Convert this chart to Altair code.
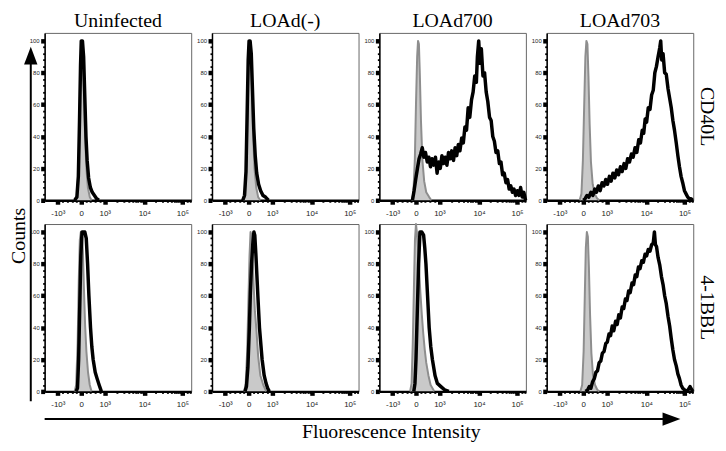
import altair as alt
import pandas as pd

conditions = ["Uninfected", "LOAd(-)", "LOAd700", "LOAd703"]
markers = ["CD40L", "4-1BBL"]

# display-channel positions (0..1000) of the logicle axis ticks
x_major_values = [90, 250, 410, 680, 940]
x_major_labels = ["-10³", "0", "10³", "10⁴", "10⁵"]
x_minor_values = [122, 154, 186, 218, 282, 314, 346, 378, 491, 539, 573, 599, 620, 638,
                  654, 668, 758, 804, 837, 862, 882, 900, 915, 928, 970, 990]
y_major_values = [0, 20, 40, 60, 80, 100]
y_minor_values = [4, 8, 12, 16, 24, 28, 32, 36, 44, 48, 52, 56, 64, 68, 72, 76, 84, 88, 92, 96]

# ---- Uninfected / CD40L
uninf_cd40l_gray_x = [210, 222, 232, 240, 247, 253, 260, 268, 276, 285, 295, 308, 320]
uninf_cd40l_gray_y = [0, 3, 22, 60, 90, 100, 95, 70, 40, 20, 8, 2, 0]
uninf_cd40l_black_x = [205, 220, 230, 238, 245, 250, 258, 266, 274, 282, 290, 300, 312, 325, 340, 355, 370]
uninf_cd40l_black_y = [0, 2, 15, 50, 85, 100, 100, 90, 65, 40, 25, 14, 8, 5, 3, 1, 0]

# ---- LOAd(-) / CD40L
load_cd40l_gray_x = [215, 226, 236, 244, 251, 257, 264, 272, 280, 290, 302, 315, 330]
load_cd40l_gray_y = [0, 3, 25, 65, 92, 100, 95, 72, 42, 20, 8, 2, 0]
load_cd40l_black_x = [210, 222, 232, 240, 247, 253, 260, 268, 276, 285, 295, 305, 318, 332, 348, 365, 385]
load_cd40l_black_y = [0, 3, 18, 55, 88, 100, 100, 92, 70, 45, 28, 17, 10, 6, 3, 2, 0]

# ---- LOAd700 / CD40L
l700_cd40l_gray_x = [220, 232, 242, 250, 258, 264, 270, 276, 284, 294, 306, 320, 340, 355]
l700_cd40l_gray_y = [0, 4, 25, 60, 90, 100, 98, 80, 50, 25, 12, 5, 2, 0]
l700_cd40l_black_x = [226, 237, 248, 260, 271, 282, 293, 304, 315, 327, 338, 349, 360, 371, 383, 394,
                      405, 416, 427, 438, 450, 461, 472, 483, 494, 506, 517, 528, 539, 550, 562, 573,
                      584, 595, 606, 617, 629, 640, 651, 662, 669, 678, 687, 696, 707, 718, 729, 740,
                      752, 763, 774, 785, 796, 808, 819, 830, 841, 852, 864, 875, 886, 897, 908, 919,
                      930, 942, 953, 964, 975, 986, 998]
l700_cd40l_black_y = [0, 6, 13, 20, 26, 29, 33, 27, 30, 24, 27, 21, 26, 22, 27, 17,
                      24, 20, 28, 23, 27, 22, 30, 26, 31, 25, 33, 28, 35, 31, 39, 36,
                      46, 44, 58, 52, 63, 68, 78, 74, 90, 100, 86, 95, 78, 80, 68, 62,
                      52, 50, 40, 37, 30, 31, 23, 24, 16, 17, 11, 13, 7, 9, 5, 7,
                      3, 6, 3, 8, 2, 5, 0]

# ---- LOAd703 / CD40L
l703_cd40l_gray_x = [225, 237, 247, 256, 264, 271, 278, 285, 293, 302, 314, 328, 345, 360]
l703_cd40l_gray_y = [0, 4, 25, 60, 90, 100, 98, 78, 48, 24, 10, 4, 1, 0]
l703_cd40l_black_x = [250, 262, 275, 288, 302, 315, 328, 340, 352, 365, 378, 391, 403, 415, 428, 440,
                      452, 465, 478, 490, 503, 515, 528, 540, 552, 565, 578, 590, 603, 615, 628, 640,
                      652, 662, 672, 682, 693, 705, 716, 727, 738, 749, 760, 772, 778, 785, 794, 805,
                      816, 828, 839, 850, 861, 872, 884, 895, 906, 917, 928, 940, 951, 962, 973, 985, 995]
l703_cd40l_black_y = [0, 1, 3, 2, 5, 3, 7, 5, 9, 6, 11, 9, 13, 10, 15, 12,
                      17, 14, 19, 16, 21, 18, 23, 20, 26, 24, 29, 27, 33, 30, 38, 36,
                      44, 42, 51, 49, 58, 57, 66, 69, 80, 84, 90, 96, 100, 88, 92, 80,
                      79, 70, 64, 58, 50, 44, 36, 28, 21, 15, 11, 6, 4, 2, 1, 1, 0]

# ---- Uninfected / 4-1BBL
uninf_41bbl_gray_x = [205, 215, 225, 233, 240, 247, 254, 261, 268, 276, 285, 296, 308, 320]
uninf_41bbl_gray_y = [0, 4, 30, 70, 95, 100, 100, 88, 65, 42, 25, 12, 4, 0]
uninf_41bbl_black_x = [215, 224, 232, 240, 247, 255, 264, 274, 284, 293, 302, 313, 322, 331, 345, 358, 372, 387]
uninf_41bbl_black_y = [0, 2, 20, 55, 85, 100, 100, 100, 96, 80, 60, 40, 28, 20, 12, 8, 4, 0]

# ---- LOAd(-) / 4-1BBL
load_41bbl_gray_x = [220, 230, 240, 248, 256, 263, 270, 277, 285, 293, 302, 315, 330, 350, 370]
load_41bbl_gray_y = [0, 5, 25, 55, 85, 100, 98, 85, 65, 50, 40, 22, 10, 4, 0]
load_41bbl_black_x = [225, 235, 245, 255, 262, 270, 278, 286, 292, 300, 313, 324, 342, 356, 369, 380, 391]
load_41bbl_black_y = [0, 3, 15, 40, 62, 80, 92, 100, 98, 85, 60, 40, 20, 10, 5, 2, 0]

# ---- LOAd700 / 4-1BBL
l700_41bbl_gray_x = [210, 220, 228, 236, 243, 250, 256, 264, 272, 280, 290, 300, 310, 320, 335, 350, 375]
l700_41bbl_gray_y = [0, 5, 30, 65, 95, 105, 100, 90, 75, 62, 48, 36, 26, 18, 10, 4, 0]
l700_41bbl_black_x = [235, 243, 250, 256, 262, 268, 277, 290, 302, 310, 318, 329, 340, 351, 362, 380, 396, 420, 445, 474]
l700_41bbl_black_y = [0, 5, 20, 40, 60, 80, 100, 100, 98, 90, 80, 60, 40, 28, 20, 10, 5, 3, 1, 0]

# ---- LOAd703 / 4-1BBL
l703_41bbl_gray_x = [230, 242, 252, 260, 267, 274, 281, 288, 296, 305, 316, 330, 345, 360]
l703_41bbl_gray_y = [0, 4, 25, 60, 90, 100, 97, 78, 48, 24, 10, 4, 1, 0]
l703_41bbl_black_x = [265, 280, 291, 302, 313, 325, 336, 347, 358, 369, 380, 391, 403, 414, 425, 436,
                      447, 458, 470, 481, 492, 503, 515, 526, 537, 548, 559, 570, 582, 593, 604, 615,
                      626, 637, 649, 660, 671, 682, 693, 705, 716, 727, 735, 742, 749, 760, 772, 783,
                      794, 805, 816, 828, 839, 850, 861, 872, 884, 895, 906, 917, 928, 940, 951, 965,
                      978, 990, 998]
l703_41bbl_black_y = [0, 1, 3, 2, 6, 8, 12, 13, 18, 19, 24, 25, 30, 31, 36, 35,
                      41, 38, 44, 42, 48, 46, 53, 52, 58, 57, 63, 62, 68, 67, 73, 72,
                      78, 77, 82, 81, 86, 85, 89, 88, 92, 93, 100, 92, 91, 84, 79, 72,
                      67, 60, 55, 47, 41, 33, 26, 20, 16, 11, 8, 4, 2, 1, 0, 1,
                      3, 1, 0]

series = {
    ("Uninfected", "CD40L"): (uninf_cd40l_gray_x, uninf_cd40l_gray_y, uninf_cd40l_black_x, uninf_cd40l_black_y),
    ("LOAd(-)", "CD40L"): (load_cd40l_gray_x, load_cd40l_gray_y, load_cd40l_black_x, load_cd40l_black_y),
    ("LOAd700", "CD40L"): (l700_cd40l_gray_x, l700_cd40l_gray_y, l700_cd40l_black_x, l700_cd40l_black_y),
    ("LOAd703", "CD40L"): (l703_cd40l_gray_x, l703_cd40l_gray_y, l703_cd40l_black_x, l703_cd40l_black_y),
    ("Uninfected", "4-1BBL"): (uninf_41bbl_gray_x, uninf_41bbl_gray_y, uninf_41bbl_black_x, uninf_41bbl_black_y),
    ("LOAd(-)", "4-1BBL"): (load_41bbl_gray_x, load_41bbl_gray_y, load_41bbl_black_x, load_41bbl_black_y),
    ("LOAd700", "4-1BBL"): (l700_41bbl_gray_x, l700_41bbl_gray_y, l700_41bbl_black_x, l700_41bbl_black_y),
    ("LOAd703", "4-1BBL"): (l703_41bbl_gray_x, l703_41bbl_gray_y, l703_41bbl_black_x, l703_41bbl_black_y),
}

W, H = 148, 169
HSP, VSP = 21, 24
SERIF = "Liberation Serif"

x_all = sorted(x_major_values + x_minor_values)
x_major_test = "indexof([" + ",".join(str(v) for v in x_major_values) + "], datum.value) >= 0"
x_label_expr = ""
for v, lab in zip(x_major_values, x_major_labels):
    x_label_expr += f"datum.value == {v} ? '{lab}' : "
x_label_expr += "''"

x_axis = alt.Axis(
    values=x_all, labelExpr=x_label_expr, title=None, grid=False,
    domainColor="black", domainWidth=2.5, tickColor="black",
    tickSize={"condition": {"test": x_major_test, "value": 4}, "value": 2},
    tickWidth={"condition": {"test": x_major_test, "value": 4.5}, "value": 2},
    labelFont="Liberation Sans", labelFontSize=8, labelColor="#222",
    labelPadding=5, labelFlush=False, labelOverlap=False,
)
y_major_test = "datum.value % 20 === 0"
y_axis = alt.Axis(
    values=sorted(y_major_values + y_minor_values),
    labelExpr=f"{y_major_test} ? datum.label : ''", title=None, grid=False,
    domainColor="black", domainWidth=1.5, tickColor="black",
    tickSize={"condition": {"test": y_major_test, "value": 4}, "value": 2},
    tickWidth={"condition": {"test": y_major_test, "value": 4.5}, "value": 1.8},
    labelFont="Liberation Sans", labelFontSize=6, labelColor="#222",
    labelPadding=1.5, labelFlush=False, labelOverlap=False,
)
xs = alt.Scale(domain=[0, 1000], nice=False, zero=False)
ys = alt.Scale(domain=[0, 105], nice=False)


def text_layer(txt, x, y, angle=0, size=20, align="center", baseline="alphabetic"):
    return alt.Chart(pd.DataFrame({"t": [txt]})).mark_text(
        font=SERIF, fontSize=size, angle=angle, align=align, baseline=baseline, color="black"
    ).encode(text="t:N", x=alt.value(x), y=alt.value(y))


def panel(ci, ri):
    cond, mk = conditions[ci], markers[ri]
    gx, gy, bx, by = series[(cond, mk)]
    g = pd.DataFrame({"x": gx, "y": gy})
    b = pd.DataFrame({"x": bx, "y": by})
    X = alt.X("x:Q", scale=xs, axis=x_axis)
    Y = alt.Y("y:Q", scale=ys, axis=y_axis)
    layers = [
        alt.Chart(g).mark_area(color="#c9c9c9", opacity=1).encode(x=X, y=Y),
        alt.Chart(g).mark_line(color="#8e8e8e", strokeWidth=2, strokeJoin="round").encode(x=X, y=Y),
        alt.Chart(b).mark_line(color="black", strokeWidth=3.5, strokeJoin="round").encode(x=X, y=Y),
    ]
    if ri == 0:
        layers.append(text_layer(cond, W / 2, -22, baseline="top"))
    if ci == 3:
        layers.append(text_layer(mk, W + 14, H / 2, angle=90, baseline="middle"))
    if ci == 0 and ri == 0:
        layers.append(text_layer("Counts", -26, 205, angle=270, baseline="middle"))
        layers.append(
            alt.Chart(pd.DataFrame({"a": [0]})).mark_rule(color="black", strokeWidth=2).encode(
                x=alt.value(-14), y=alt.value(28), y2=alt.value(H + VSP + H + 10))
        )
        layers.append(
            alt.Chart(pd.DataFrame({"a": [0]})).mark_point(
                shape="M0,-1L0.75,1L-0.75,1Z", filled=True, size=324, color="black", opacity=1
            ).encode(x=alt.value(-14), y=alt.value(23))
        )
    if ci == 0 and ri == 1:
        arrow_y = H + 28
        tip = 4 * W + 3 * HSP - 13
        layers.append(
            alt.Chart(pd.DataFrame({"a": [0]})).mark_rule(color="black", strokeWidth=2).encode(
                x=alt.value(0), x2=alt.value(tip - 12), y=alt.value(arrow_y))
        )
        layers.append(
            alt.Chart(pd.DataFrame({"a": [0]})).mark_point(
                shape="M1,0L-1,-0.75L-1,0.75Z", filled=True, size=324, color="black", opacity=1
            ).encode(x=alt.value(tip - 9), y=alt.value(arrow_y))
        )
        layers.append(text_layer("Fluorescence Intensity", 350, H + 47))
    return alt.layer(*layers).properties(width=W, height=H)


panels = [panel(ci, ri) for ri in range(2) for ci in range(4)]

chart = alt.ConcatChart(
    concat=panels, columns=4,
    spacing=alt.RowColnumber(row=VSP, column=HSP), bounds="flush",
).properties(padding=0).configure_view(stroke="#666", strokeWidth=1)

chart.save("out.html", embed_options={"renderer": "svg", "actions": False})
